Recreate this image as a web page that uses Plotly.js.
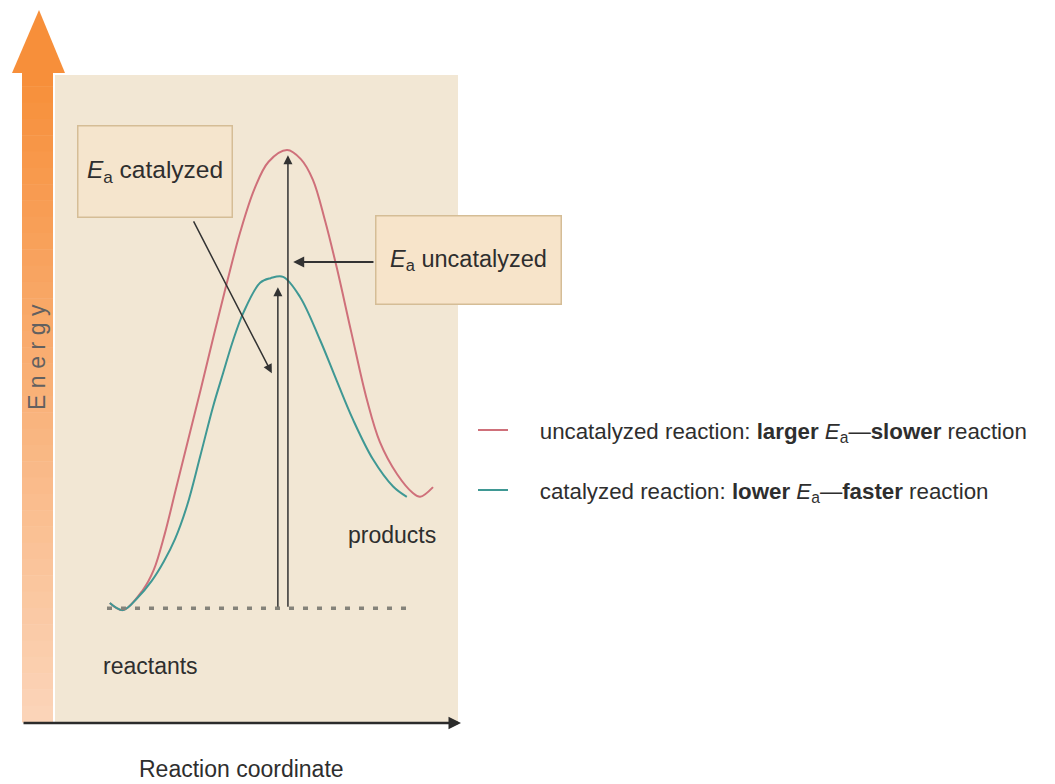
<!DOCTYPE html>
<html>
<head>
<meta charset="utf-8">
<script src="https://cdn.plot.ly/plotly-3.0.1.min.js"></script>
<style>html,body{margin:0;padding:0;background:#fff;}#chart{width:1055px;height:784px;}</style>
</head>
<body>
<div id="chart"></div>
<script>
// ---- data (reaction coordinate 0-10, energy 0-100) ----
const uncatCoord  = [1.36, 1.69, 2.18, 2.45, 2.72, 3.00, 3.30, 3.62, 3.95, 4.27, 4.60, 4.95, 5.30, 5.76, 6.10, 6.40, 6.70, 7.00, 7.35, 7.74, 8.06, 8.49, 8.88, 9.06, 9.38];
const uncatEnergy = [18.4, 17.3, 20.4, 23.5, 29.0, 36.0, 43.5, 51.5, 60.0, 68.0, 75.8, 82.4, 86.6, 88.4, 87.0, 83.8, 77.5, 70.0, 60.3, 49.8, 43.3, 38.3, 35.4, 34.8, 36.3];
const catCoord    = [1.36, 1.69, 2.05, 2.40, 2.70, 2.98, 3.28, 3.60, 3.92, 4.17, 4.42, 4.67, 5.09, 5.35, 5.66, 6.08, 6.58, 7.00, 7.39, 7.89, 8.39, 8.73];
const catEnergy   = [18.4, 17.3, 19.2, 21.8, 24.8, 28.3, 33.5, 41.0, 48.7, 53.9, 59.0, 63.2, 67.9, 68.6, 68.8, 65.7, 59.0, 52.6, 46.8, 40.6, 36.4, 34.8];
const reactantLevel = [1.29, 8.81];      // extent of dotted reactant level
const reactantEnergy = 17.6;
const eaCatArrow   = {x: 5.53, top: 67.2};   // arrow up to catalyzed peak
const eaUncatArrow = {x: 5.78, top: 87.6};   // arrow up to uncatalyzed peak
const seriesNames = [
  'uncatalyzed reaction: <b>larger</b> <i>E</i><sub>a</sub>\u2014<b>slower</b> reaction',
  'catalyzed reaction: <b>lower</b> <i>E</i><sub>a</sub>\u2014<b>faster</b> reaction'
];
const labels = {cat: '<i>E</i><sub>a</sub> catalyzed', uncat: '<i>E</i><sub>a</sub> uncatalyzed',
  reactants: 'reactants', products: 'products', xTitle: 'Reaction coordinate', yTitle: 'Energy'};

// ---- layout helpers (figure pixels -> paper) ----
const L = 55, R = 458, T = 75, B = 722;
const PX = p => (p - L) / (R - L);
const PY = p => (B - p) / (B - T);
const FONT = "'Liberation Sans Narrow', 'Arial Narrow', 'Liberation Sans', Arial, sans-serif";
const TXT = '#2e2e2e';
const LEGPAD = '\u2002\u2002\u2009';

const traces = [
  {x: uncatCoord, y: uncatEnergy, mode: 'lines', name: LEGPAD + seriesNames[0], legendgroup: 'a',
   line: {color: '#cf707a', width: 2, shape: 'spline', smoothing: 1}},
  {x: catCoord, y: catEnergy, mode: 'lines', name: LEGPAD + seriesNames[1], legendgroup: 'b',
   line: {color: '#3f9894', width: 2, shape: 'spline', smoothing: 1}},
  {x: reactantLevel, y: [reactantEnergy, reactantEnergy], mode: 'lines', showlegend: false,
   line: {color: '#85837a', width: 3.5, dash: '5px,9px'}}
];

// orange energy arrow (gradient made of bands)
const shapes = [];
const nb = 40, c1 = [247, 143, 58], c2 = [251, 212, 184];
for (let i = 0; i < nb; i++) {
  const t = i / (nb - 1);
  const c = c1.map((v, k) => Math.round(v + (c2[k] - v) * t));
  const y0 = 70 + (722 - 70) * i / nb, y1 = 70 + (722 - 70) * (i + 1) / nb + 0.5;
  shapes.push({type: 'rect', xref: 'paper', yref: 'paper', layer: 'below',
    x0: PX(22), x1: PX(53), y0: PY(y1), y1: PY(y0), line: {width: 0}, fillcolor: `rgb(${c.join(',')})`});
}
shapes.push({type: 'path', xref: 'paper', yref: 'paper', layer: 'below',
  path: `M ${PX(12)} ${PY(73)} L ${PX(39)} ${PY(10)} L ${PX(65)} ${PY(73)} Z`,
  line: {width: 0}, fillcolor: 'rgb(247,143,58)'});

const arrowCommon = {showarrow: true, text: '', arrowhead: 2, arrowsize: 1.2, arrowwidth: 1.5,
  arrowcolor: '#333', standoff: 0, startstandoff: 0, xref: 'x', yref: 'y', axref: 'x', ayref: 'y'};

const annotations = [
  // Ea arrows
  Object.assign({}, arrowCommon, {x: eaCatArrow.x, y: eaCatArrow.top, ax: eaCatArrow.x, ay: reactantEnergy}),
  Object.assign({}, arrowCommon, {x: eaUncatArrow.x, y: eaUncatArrow.top, ax: eaUncatArrow.x, ay: reactantEnergy}),
  // pointer arrows from boxes
  Object.assign({}, arrowCommon, {x: 5.38, y: 53.9, ax: 3.42, ay: 77.6}),
  Object.assign({}, arrowCommon, {x: 5.91, y: 71.1, ax: 7.94, ay: 71.1, arrowwidth: 2.2, arrowsize: 1}),
  // x axis arrow
  {showarrow: true, text: '', xref: 'paper', yref: 'paper', axref: 'pixel', ayref: 'pixel',
   x: PX(461), y: PY(723), ax: -439, ay: 0, arrowhead: 2, arrowsize: 1, arrowwidth: 2.5,
   arrowcolor: '#2b2b2b', standoff: 0, startstandoff: 0},
  // label boxes
  {xref: 'paper', yref: 'paper', x: PX(155), y: PY(171.5), xanchor: 'center', yanchor: 'middle',
   text: labels.cat, showarrow: false, width: 150, height: 87, borderpad: 1.5, borderwidth: 1.5,
   bordercolor: '#d5bd96', bgcolor: '#f5e5cd', font: {family: FONT, size: 24.5, color: TXT}},
  {xref: 'paper', yref: 'paper', x: PX(468.5), y: PY(260), xanchor: 'center', yanchor: 'middle',
   text: labels.uncat, showarrow: false, width: 181, height: 84, borderpad: 1.5, borderwidth: 1.5,
   bordercolor: '#d5bd96', bgcolor: '#f7e4ca', font: {family: FONT, size: 23.5, color: TXT}},
  {xref: 'paper', yref: 'paper', x: PX(391.5), y: PY(535), xanchor: 'center', yanchor: 'middle',
   text: labels.products, showarrow: false, font: {family: FONT, size: 23, color: TXT}},
  {xref: 'paper', yref: 'paper', x: PX(150), y: PY(666), xanchor: 'center', yanchor: 'middle',
   text: labels.reactants, showarrow: false, font: {family: FONT, size: 23, color: TXT}},
  // axis titles (placed like the reference, off-centre)
  {xref: 'paper', yref: 'paper', x: PX(241), y: PY(769), xanchor: 'center', yanchor: 'middle',
   text: labels.xTitle, showarrow: false, font: {family: FONT, size: 23, color: TXT}},
  {xref: 'paper', yref: 'paper', x: PX(37), y: PY(357), xanchor: 'center', yanchor: 'middle', textangle: -90,
   text: labels.yTitle.split('').join('\u2009\u200A'), showarrow: false,
   font: {family: "'Liberation Sans', Arial, sans-serif", size: 23, color: '#626060'}}
];

const layout = {
  width: 1055, height: 784,
  margin: {l: L, r: 1055 - R, t: T, b: 784 - B, pad: 0},
  paper_bgcolor: '#ffffff', plot_bgcolor: '#f2e7d4',
  showlegend: true,
  legend: {x: PX(473), y: PY(409), xanchor: 'left', yanchor: 'top', bgcolor: 'rgba(0,0,0,0)',
    font: {family: FONT, size: 22.3, color: TXT}, tracegroupgap: 28, itemwidth: 30},
  xaxis: {range: [0, 10], showgrid: false, zeroline: false, showticklabels: false, ticks: '',
    showline: false, fixedrange: true, title: {text: ''}},
  yaxis: {range: [0, 100], showgrid: false, zeroline: false, showticklabels: false, ticks: '',
    showline: false, fixedrange: true, title: {text: ''}},
  shapes: shapes,
  annotations: annotations
};

Plotly.newPlot('chart', traces, layout, {staticPlot: true, displayModeBar: false});
</script>
</body>
</html>
